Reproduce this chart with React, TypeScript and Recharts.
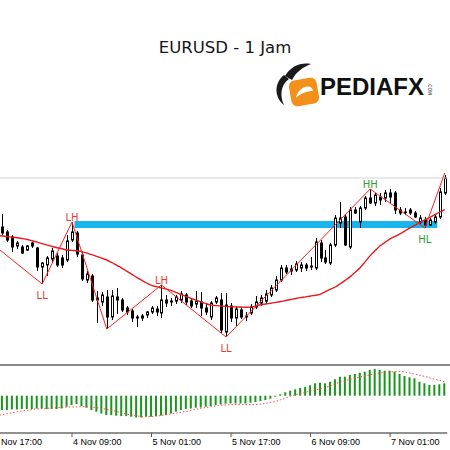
import {
  ComposedChart,
  Bar,
  Line,
  XAxis,
  YAxis,
  ReferenceLine,
  ReferenceArea,
  LabelList,
} from "recharts";

// hourly bars; the first two (3 Nov 17:00, 18:00) sit just left of the visible area
const LEAD = 2;
const times = Array.from({ length: 92 }, (_, k) => {
  const h = 17 + k;
  return `${3 + Math.floor(h / 24)} Nov ${String(h % 24).padStart(2, "0")}:00`;
});
const tickTimes = ["3 Nov 17:00", "4 Nov 09:00", "5 Nov 01:00", "5 Nov 17:00", "6 Nov 09:00", "7 Nov 01:00"];

// candles from 3 Nov 19:00
const opens = [
  1.1173, 1.1168, 1.1163, 1.1154, 1.1153, 1.115, 1.1157, 1.1152, 1.1133, 1.1135,
  1.1141, 1.1144, 1.1142, 1.114, 1.116, 1.1167, 1.1145, 1.112, 1.1124, 1.1102,
  1.1098, 1.1103, 1.1083, 1.1103, 1.11, 1.1092, 1.1089, 1.1082, 1.1082, 1.1085,
  1.1088, 1.1091, 1.1087, 1.11, 1.1099, 1.1099, 1.11, 1.1105, 1.1099, 1.1096,
  1.1098, 1.1092, 1.1083, 1.1098, 1.11, 1.1068, 1.1094, 1.1082, 1.109, 1.1083,
  1.1087, 1.1093, 1.1097, 1.1099, 1.1105, 1.111, 1.112, 1.1132, 1.1129, 1.113,
  1.1132, 1.1135, 1.1133, 1.1132, 1.1157, 1.1142, 1.1137, 1.1155, 1.1177, 1.1183,
  1.1153, 1.119, 1.1178, 1.1192, 1.1202, 1.1197, 1.1203, 1.1202, 1.1207, 1.1207,
  1.119, 1.1188, 1.119, 1.1187, 1.1178, 1.118, 1.1175, 1.1178, 1.1183, 1.1207,
];
const highs = [
  1.1186, 1.117, 1.1165, 1.1159, 1.1155, 1.1155, 1.1158, 1.1153, 1.1138, 1.1144,
  1.1152, 1.1147, 1.1145, 1.1165, 1.1178, 1.1169, 1.1148, 1.1129, 1.1126, 1.1109,
  1.1108, 1.111, 1.111, 1.1112, 1.1102, 1.1094, 1.1091, 1.1085, 1.1086, 1.1089,
  1.1094, 1.1094, 1.1115, 1.1105, 1.1102, 1.1105, 1.1109, 1.1107, 1.1101, 1.1109,
  1.1108, 1.1097, 1.1099, 1.1104, 1.1107, 1.1107, 1.1097, 1.1094, 1.1093, 1.1088,
  1.1096, 1.1104, 1.1105, 1.111, 1.1115, 1.1124, 1.1135, 1.1135, 1.1135, 1.1139,
  1.1138, 1.1137, 1.1143, 1.1162, 1.116, 1.115, 1.1157, 1.1185, 1.1198, 1.1186,
  1.1193, 1.1193, 1.1194, 1.1204, 1.1211, 1.1207, 1.1207, 1.121, 1.1211, 1.1209,
  1.1193, 1.1192, 1.1192, 1.1189, 1.1185, 1.1183, 1.1182, 1.1185, 1.1212, 1.1225,
];
const lows = [
  1.1165, 1.1158, 1.1148, 1.1151, 1.1146, 1.1149, 1.1152, 1.1129, 1.1116, 1.1124,
  1.1138, 1.1133, 1.1132, 1.1138, 1.1158, 1.1143, 1.1119, 1.1117, 1.1098, 1.1077,
  1.1094, 1.1071, 1.108, 1.1086, 1.1088, 1.1085, 1.1078, 1.1073, 1.1079, 1.1082,
  1.1086, 1.1084, 1.1082, 1.1093, 1.1094, 1.1096, 1.1097, 1.1095, 1.1092, 1.1092,
  1.1084, 1.1085, 1.108, 1.1096, 1.1067, 1.1063, 1.1078, 1.1074, 1.1081, 1.1079,
  1.1085, 1.1091, 1.1094, 1.1096, 1.1103, 1.1108, 1.1118, 1.1126, 1.1125, 1.1128,
  1.1128, 1.1129, 1.113, 1.113, 1.1138, 1.1136, 1.1135, 1.1153, 1.1172, 1.1154,
  1.1151, 1.1186, 1.1172, 1.119, 1.1196, 1.1194, 1.1195, 1.1198, 1.1197, 1.1186,
  1.1185, 1.1185, 1.1185, 1.1182, 1.1176, 1.1172, 1.1174, 1.1176, 1.1181, 1.1205,
];
const closes = [
  1.1167, 1.116, 1.1153, 1.1157, 1.1147, 1.1154, 1.1154, 1.1133, 1.1137, 1.1142,
  1.1149, 1.1135, 1.1135, 1.1159, 1.1168, 1.1146, 1.1121, 1.1126, 1.11, 1.11,
  1.1105, 1.1083, 1.1104, 1.11, 1.109, 1.1088, 1.1082, 1.1083, 1.1084, 1.1088,
  1.1092, 1.1088, 1.11, 1.1097, 1.1098, 1.1103, 1.1106, 1.1098, 1.1094, 1.1099,
  1.1092, 1.1088, 1.1097, 1.1102, 1.107, 1.1095, 1.1082, 1.1091, 1.1083, 1.1084,
  1.1093, 1.1098, 1.1102, 1.1106, 1.1112, 1.112, 1.1132, 1.1128, 1.1131, 1.1136,
  1.1135, 1.1132, 1.1134, 1.1158, 1.1142, 1.1138, 1.1155, 1.1182, 1.1182, 1.1155,
  1.119, 1.1187, 1.1192, 1.1202, 1.1197, 1.1205, 1.12, 1.1207, 1.1203, 1.119,
  1.1187, 1.1188, 1.1187, 1.1183, 1.1182, 1.1175, 1.118, 1.1183, 1.1208, 1.1222,
];

// moving average, includes the two off-screen bars
const maLine = [
  1.1165, 1.11646,
  1.1164, 1.11634, 1.11629, 1.11623, 1.11614, 1.11605, 1.11592, 1.11579, 1.11564, 1.11549,
  1.11535, 1.11523, 1.11512, 1.115, 1.11496, 1.11492, 1.11484, 1.11468, 1.11453, 1.11436,
  1.11418, 1.114, 1.11375, 1.11347, 1.11319, 1.11289, 1.11258, 1.11227, 1.11198, 1.1117,
  1.11146, 1.11134, 1.11121, 1.11109, 1.11094, 1.11074, 1.11054, 1.11034, 1.11015, 1.10998,
  1.1098, 1.10963, 1.10949, 1.10944, 1.1094, 1.10936, 1.10933, 1.10931, 1.1093, 1.10928,
  1.10929, 1.10941, 1.10952, 1.1096, 1.10968, 1.10976, 1.10985, 1.10995, 1.11005, 1.11015,
  1.11024, 1.11031, 1.1104, 1.11048, 1.11058, 1.11084, 1.11108, 1.1113, 1.11163, 1.11198,
  1.11234, 1.11278, 1.11325, 1.11384, 1.11444, 1.11494, 1.11542, 1.11577, 1.11611, 1.11636,
  1.11661, 1.11691, 1.11721, 1.11748, 1.11776, 1.11801, 1.11826, 1.11853, 1.1188, 1.11905,
];

// zigzag pivots (bar index from 3 Nov 19:00)
const zzIndex = [-2, 8, 14, 21, 32, 45, 74, 85, 89];
const zzPrice = [1.1156, 1.1116, 1.1178, 1.1071, 1.1115, 1.1063, 1.1211, 1.1172, 1.1227];
const zzText = ["", "LL", "LH", "", "LH", "LL", "HH", "HL", ""];

// horizontal zone
const zoneLow = 1.1172;
const zoneHigh = 1.1179;
const zoneFrom = 15;
const zoneTo = 87;
const guideLevel = 1.1222;

// MACD histogram (bars from 3 Nov 19:00)
const hist = [
  -0.00072, -0.00072, -0.00069, -0.00069, -0.00067, -0.00067, -0.00067, -0.00064, -0.00064, -0.00067,
  -0.00067, -0.00067, -0.00064, -0.00055, -0.00047, -0.00042, -0.00052, -0.0006, -0.00072, -0.0008,
  -0.00089, -0.00097, -0.00097, -0.001, -0.00102, -0.00102, -0.00105, -0.00109, -0.00109, -0.00105,
  -0.00105, -0.00102, -0.00099, -0.00097, -0.00089, -0.0008, -0.00072, -0.00067, -0.00064, -0.0006,
  -0.00059, -0.00055, -0.00052, -0.00047, -0.00044, -0.0004, -0.00039, -0.00039, -0.00039, -0.00039,
  -0.00035, -0.00032, -0.00027, -0.00022, -0.00015, -0.00005, 0.00007, 0.00017, 0.00025, 0.00032,
  0.00039, 0.00044, 0.00052, 0.00062, 0.00065, 0.00062, 0.0007, 0.00082, 0.00095, 0.00095,
  0.00104, 0.00109, 0.00115, 0.0012, 0.00129, 0.00134, 0.00129, 0.00125, 0.00125, 0.0012,
  0.00109, 0.00099, 0.00092, 0.00087, 0.0007, 0.00062, 0.00054, 0.00054, 0.00057, 0.00062,
];
// signal line, includes the two off-screen bars
const signal = [
  -0.00101, -0.00098,
  -0.00095, -0.0009, -0.00085, -0.0008, -0.00076, -0.00073, -0.00069, -0.00066, -0.00064, -0.00063,
  -0.00061, -0.0006, -0.00058, -0.00057, -0.00056, -0.00056, -0.00055, -0.00055, -0.00057, -0.0006,
  -0.00064, -0.00068, -0.00073, -0.00079, -0.00086, -0.00092, -0.00097, -0.00101, -0.00104, -0.00105,
  -0.00104, -0.00102, -0.00099, -0.00095, -0.00091, -0.00087, -0.00082, -0.00078, -0.00073, -0.00068,
  -0.00063, -0.00059, -0.00055, -0.00051, -0.00048, -0.00046, -0.00045, -0.00044, -0.00044, -0.00044,
  -0.00044, -0.00044, -0.00042, -0.00038, -0.00033, -0.00029, -0.0002, -0.00011, -0.00002, 0.00005,
  0.00011, 0.00017, 0.00024, 0.00029, 0.00035, 0.00041, 0.0005, 0.00059, 0.00068, 0.00075,
  0.00082, 0.00088, 0.00094, 0.00099, 0.00104, 0.00109, 0.00113, 0.00116, 0.00119, 0.0012,
  0.0012, 0.00118, 0.00113, 0.00108, 0.00102, 0.00096, 0.00089, 0.00082, 0.00076, 0.00069,
];

const rows = times.map((time, k) => {
  const i = k - LEAD;
  const has = i >= 0 && i < opens.length;
  const p = zzIndex.indexOf(i);
  return {
    time,
    open: has ? opens[i] : null,
    high: has ? highs[i] : null,
    low: has ? lows[i] : null,
    close: has ? closes[i] : null,
    ma: maLine[k],
    zz: p >= 0 ? zzPrice[p] : null,
    pivot: p >= 0 ? zzText[p] : "",
    hist: has ? hist[i] : null,
    signal: signal[k],
  };
});

const CHART_W = 460;
const MARGIN = { top: 0, right: 2.76, bottom: 0, left: 0 };

function Candle(props: any) {
  const { x, y, width, height, payload } = props;
  if (!payload || payload.open == null || y == null || height == null) return null;
  const { open, high, low, close } = payload;
  const top = Math.min(y, y + height);
  const h = Math.abs(height);
  const span = high - low || 1e-9;
  const py = (v: number) => top + ((high - v) / span) * h;
  const cx = Math.round(x + width / 2) + 0.5;
  const bTop = py(Math.max(open, close));
  const bBot = py(Math.min(open, close));
  return (
    <g>
      <line x1={cx} x2={cx} y1={top} y2={top + h} stroke="#000" strokeWidth={1} />
      <rect
        x={cx - 1}
        y={bTop}
        width={2}
        height={Math.max(bBot - bTop, 0.5)}
        fill={close >= open ? "#fff" : "#000"}
        stroke="#000"
        strokeWidth={1}
      />
    </g>
  );
}

function PivotLabel(props: any) {
  const { value } = props;
  if (!value) return null;
  const vb = props.viewBox || {};
  const x = vb.x ?? props.x;
  const y = vb.y ?? props.y;
  if (x == null || y == null) return null;
  const isLow = value[1] === "L";
  const color = value[0] === "H" ? "#2f9e35" : "#ee3b2f";
  return (
    <text
      x={x}
      y={isLow ? y + 14.5 : y - 1}
      textAnchor="middle"
      fontSize={10}
      fontFamily="'DejaVu Sans', sans-serif"
      fill={color}
    >
      {value}
    </text>
  );
}

function TimeTick(props: any) {
  const { x, y, payload } = props;
  return (
    <g>
      <line x1={x} x2={x} y1={y} y2={y + 4} stroke="#555" strokeWidth={1} />
      <text x={x + 1} y={y + 12} fontSize={9} fill="#000" textAnchor="start" fontFamily="'Liberation Sans', Arial, sans-serif">
        {payload.value}
      </text>
    </g>
  );
}

export default function App() {
  return (
    <div
      style={{
        position: "absolute",
        left: 0,
        top: 0,
        width: 450,
        height: 450,
        overflow: "hidden",
        background: "#fff",
      }}
    >
      <div style={{ position: "absolute", left: -10, top: 0 }}>
        <ComposedChart width={CHART_W} height={364} data={rows} margin={MARGIN}>
          <XAxis dataKey="time" hide />
          <YAxis domain={[1.1036, 1.14]} hide allowDataOverflow />
          <ReferenceArea
            x1={times[LEAD + zoneFrom]}
            x2={times[LEAD + zoneTo]}
            y1={zoneLow}
            y2={zoneHigh}
            fill="#18b4ec"
            fillOpacity={1}
            stroke="none"
          />
          <ReferenceLine y={guideLevel} stroke="#d2d2d2" strokeWidth={1} />
          <Bar
            dataKey={(d: any) => (d.low == null ? null : [d.low, d.high])}
            barSize={3}
            shape={(p: any) => <Candle {...p} />}
            isAnimationActive={false}
          />
          <Line
            dataKey="ma"
            type="monotone"
            stroke="#e8191c"
            strokeWidth={1.4}
            dot={false}
            isAnimationActive={false}
          />
          <Line
            dataKey="zz"
            type="linear"
            stroke="#ff1e1e"
            strokeWidth={1}
            dot={false}
            connectNulls
            isAnimationActive={false}
          >
            <LabelList dataKey="pivot" content={PivotLabel} />
          </Line>
        </ComposedChart>
      </div>

      <div style={{ position: "absolute", left: 0, top: 364, width: 450, height: 2, background: "#8a8a8a" }} />

      <div style={{ position: "absolute", left: -10, top: 366 }}>
        <ComposedChart width={CHART_W} height={84} data={rows} margin={MARGIN}>
          <XAxis
            dataKey="time"
            ticks={tickTimes}
            interval={0}
            height={17}
            tickSize={0}
            tickMargin={0}
            tickLine={false}
            axisLine={{ stroke: "#6b6b6b", strokeWidth: 1.5 }}
            tick={TimeTick}
          />
          <YAxis domain={[-0.001865, 0.001485]} hide allowDataOverflow />
          <Bar dataKey="hist" fill="#1a961c" barSize={2} isAnimationActive={false} />
          <Line
            dataKey="signal"
            type="monotone"
            stroke="#ff4a4a"
            strokeWidth={1}
            strokeDasharray="1.5 2"
            dot={false}
            isAnimationActive={false}
          />
        </ComposedChart>
      </div>

      <svg width={450} height={120} style={{ position: "absolute", left: 0, top: 0 }}>
        <text
          x={225}
          y={53}
          textAnchor="middle"
          fontSize={16.5}
          fontFamily="'DejaVu Sans', sans-serif"
          fill="#151515"
        >
          EURUSD - 1 Jam
        </text>
        <path d="M285 76 C 291 66, 301 62, 311 64 C 303 67, 296 72, 292 80 Z" fill="#1a1a1a" />
        <path d="M284 75 C 274 83, 274 97, 284 105 C 280 97, 280 85, 289 79 Z" fill="#1a1a1a" />
        <rect x={290} y={79} width={28} height={26} rx={6} fill="#f39019" transform="rotate(-10 304 92)" />
        <path d="M296 98 C 298 86, 312 83, 313 91 C 307 91, 301 93, 296 98 Z" fill="#fff" />
        <text
          x={320}
          y={95}
          fontSize={24}
          fontWeight="bold"
          fontFamily="'Liberation Sans', Arial, sans-serif"
          fill="#111"
        >
          PEDIAFX
        </text>
        <text transform="translate(428 83) rotate(90)" fontSize={4.5} fill="#111" fontFamily="'Liberation Sans', Arial, sans-serif">
          .COM
        </text>
      </svg>
    </div>
  );
}
